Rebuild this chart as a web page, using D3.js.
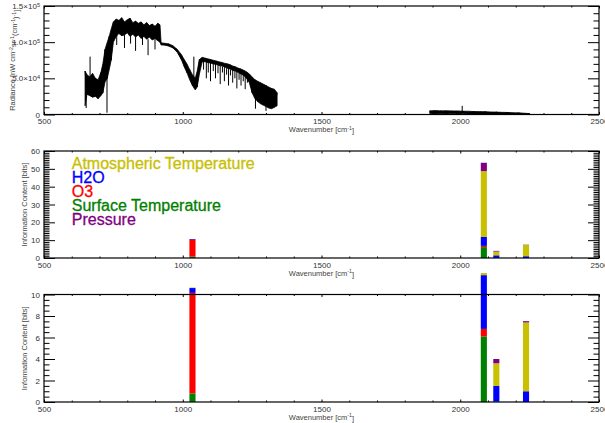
<!DOCTYPE html>
<html>
<head>
<meta charset="utf-8">
<script src="https://cdn.jsdelivr.net/npm/d3@7"></script>
<style>
    body { margin: 0; background: #fff; }
    text { font-family: "Liberation Sans", Arial, Helvetica, sans-serif; }
</style>
</head>
<body>
<div id="chart"></div>
<script>
'use strict';

// ---- spectrum (radiance envelope) ----
var band1Wn = [648, 655, 665, 675, 685, 695, 705, 712, 720, 728, 735, 742, 750, 760, 770, 780, 790, 800, 810, 820,
    830, 840, 850, 860, 870, 880, 890, 900, 910, 918, 922, 935, 950, 965, 980, 995, 1005, 1015, 1025, 1035,
    1045, 1052, 1060, 1070, 1080, 1090, 1100, 1110, 1120, 1130, 1140, 1150, 1160, 1170, 1180, 1190, 1200, 1210,
    1220, 1230, 1240, 1250, 1260, 1270, 1280, 1290, 1300, 1310, 1320, 1330, 1340];
var band1Hi = [60000, 55000, 52000, 57000, 50000, 48000, 58000, 70000, 90000, 100000, 108000, 118000, 128000, 132000, 130000, 134000, 128000, 131000, 133000, 127000,
    129000, 126000, 128000, 124000, 127000, 123000, 125000, 122000, 126000, 124000, 99000, 98500, 97500, 95000, 90000, 83000, 76000, 70000, 62000, 55000,
    50000, 60000, 76000, 79000, 78000, 77000, 76000, 75000, 74000, 73000, 72000, 71000, 70000, 69000, 67000, 66000, 64000, 63000,
    61000, 59000, 56000, 52000, 48000, 46000, 44000, 42000, 40000, 38000, 36000, 35000, 30000];
var band1Lo = [12000, 28000, 26000, 24000, 25000, 22000, 26000, 30000, 45000, 50000, 62000, 75000, 100000, 108000, 112000, 109000, 110000, 113000, 108000, 111000,
    107000, 110000, 105000, 108000, 104000, 107000, 103000, 105000, 102000, 100000, 96000, 96000, 94500, 92000, 86000, 76000, 66000, 58000, 48000, 40000,
    34000, 38000, 56000, 73000, 73000, 72000, 71000, 70000, 69000, 68000, 67000, 66000, 64000, 63000, 61000, 60000, 58000, 56000,
    54000, 50000, 44000, 30000, 22000, 18000, 15000, 13000, 11000, 9000, 8000, 10000, 12000];

var band2Wn = [1890, 1910, 1930, 1950, 1970, 1990, 2010, 2030, 2050, 2070, 2090, 2110, 2130, 2150, 2170, 2190, 2210, 2230, 2250];
var band2Hi = [5000, 5500, 5000, 5300, 4800, 5000, 4500, 4500, 4000, 4000, 3800, 3500, 3300, 3000, 2800, 2500, 2200, 1800, 1200];
var band2Lo = [1500, 1000, 1200, 1000, 1000, 1000, 1000, 800, 800, 600, 600, 500, 500, 400, 400, 300, 300, 300, 500];

// single spectral lines sticking out of the band
var spikeWn = [652, 666, 727, 762, 790, 812, 830, 855, 875, 900, 1040, 1075, 1085, 1092, 1100, 1110, 1118, 1127, 1135, 1143, 1150,
    1158, 1165, 1172, 1180, 1188, 1195, 1203, 1210, 1218, 1225, 1233, 1262, 1300, 2007];
var spikeLo = [9000, 40000, 2500, 96000, 92000, 98000, 88000, 96000, 82000, 90000, 50000, 62000, 50000, 58000, 46000, 60000, 50000, 57000, 42000, 58000, 46000,
    55000, 40000, 54000, 44000, 50000, 36000, 48000, 40000, 46000, 35000, 44000, 8000, 5000, 2000];
var spikeHi = [40000, 80000, 60000, 110000, 110000, 110000, 108000, 108000, 104000, 104000, 80000, 74000, 74000, 72000, 72000, 70000, 70000, 68000, 68000, 66000, 66000,
    64000, 64000, 62000, 62000, 60000, 60000, 58000, 58000, 56000, 56000, 52000, 30000, 25000, 12000];

// ---- information content per channel group [bits] ----
var barWn = [1035, 2085, 2130, 2237];
var surfTemp = [0.8, 6.1, 0.05, 0];
var ozone = [9.35, 0.7, 0, 0];
var water = [0.45, 5.0, 1.45, 1.0];
var atmTemp = [0.05, 36.9, 2.1, 6.4];
var pressure = [0, 4.7, 0.4, 0.12];

var stackKeys = ["surf", "o3", "h2o", "atm", "pres"];
var stackColors = {surf: "#008000", o3: "#ff0000", h2o: "#0000ff", atm: "#c8c000", pres: "#800080"};

var legendLabels = ["Atmospheric Temperature", "H2O", "O3", "Surface Temperature", "Pressure"];
var legendColors = ["#c8c000", "#0000ff", "#ff0000", "#008000", "#800080"];

var xTicks = [500, 1000, 1500, 2000, 2500];

var width = 605, height = 423;
var left = 44, right = 599;

var svg = d3.select("#chart").append("svg")
    .attr("width", width)
    .attr("height", height);

var x = d3.scaleLinear().domain([500, 2500]).range([left, right]);
var xMinor = d3.range(500, 2501, 100).filter(function(v) { return v % 500 !== 0; });

function sup(sel, base, power) {
    sel.text(null);
    sel.append("tspan").text(base);
    sel.append("tspan").attr("dy", "-0.45em").style("font-size", "0.7em").text(power);
}

// draw the boxed frame with IDL style ticks on all four sides
function drawFrame(top, bottom, y, yMajor, yMinorVals, yFmt) {
    var g = svg.append("g");

    var axes = [
        [d3.axisBottom(x).tickValues(xTicks).tickSize(-2.5).tickPadding(4).tickFormat(d3.format("d")), "translate(0," + bottom + ")", "xlab"],
        [d3.axisBottom(x).tickValues(xMinor).tickSize(-1.5).tickFormat(""), "translate(0," + bottom + ")", ""],
        [d3.axisTop(x).tickValues(xTicks).tickSize(-2.5).tickFormat(""), "translate(0," + top + ")", ""],
        [d3.axisTop(x).tickValues(xMinor).tickSize(-1.5).tickFormat(""), "translate(0," + top + ")", ""],
        [d3.axisLeft(y).tickValues(yMajor).tickSize(-11).tickPadding(4).tickFormat(yFmt), "translate(" + left + ",0)", "ylab"],
        [d3.axisLeft(y).tickValues(yMinorVals).tickSize(-5.5).tickFormat(""), "translate(" + left + ",0)", ""],
        [d3.axisRight(y).tickValues(yMajor).tickSize(-11).tickFormat(""), "translate(" + right + ",0)", ""],
        [d3.axisRight(y).tickValues(yMinorVals).tickSize(-5.5).tickFormat(""), "translate(" + right + ",0)", ""]
    ];

    axes.forEach(function(a) {
        var ag = g.append("g").attr("class", a[2]).attr("transform", a[1]).call(a[0]);
        ag.select(".domain").remove();
        ag.selectAll("line").attr("stroke", "#000").attr("stroke-width", 1);
        ag.selectAll("text")
            .style("font-size", "8px")
            .attr("fill", "#333");
    });

    g.append("rect")
        .attr("x", left)
        .attr("y", top)
        .attr("width", right - left)
        .attr("height", bottom - top)
        .attr("fill", "none")
        .attr("stroke", "#000")
        .attr("stroke-width", 1.2);

    svg.append("text")
        .attr("x", x(1500))
        .attr("y", bottom + 17.5)
        .attr("text-anchor", "middle")
        .style("font-size", "7.5px")
        .attr("fill", "#444")
        .call(function(t) {
            t.append("tspan").text("Wavenumber [cm");
            t.append("tspan").attr("dy", "-0.45em").style("font-size", "0.7em").text("-1");
            t.append("tspan").attr("dy", "0.45em").text("]");
        });

    return g;
}

function yTitle(cx, cy, build) {
    svg.append("text")
        .attr("transform", "translate(" + cx + "," + cy + ")rotate(-90)")
        .attr("text-anchor", "middle")
        .style("font-size", "7.5px")
        .attr("fill", "#444")
        .call(build);
}

// ---------------- top panel : radiance spectrum ----------------
var topT = 6, topB = 114.5;
var yRad = d3.scaleLinear().domain([0, 150000]).range([topB, topT]);
var radMinor = d3.range(0, 150001, 10000).filter(function(v) { return v % 50000 !== 0; });

var topFrame = drawFrame(topT, topB, yRad, [0, 50000, 100000, 150000], radMinor, function(d) { return d; });
var radLabels = {50000: ["5.0\u00d710", "4"], 100000: ["1.0\u00d710", "5"], 150000: ["1.5\u00d710", "5"]};
topFrame.select(".ylab").selectAll(".tick text").each(function(d) {
    var t = d3.select(this);
    if (d === 0) { t.text("0"); return; }
    sup(t, radLabels[d][0], radLabels[d][1]);
});

yTitle(15, (topT + topB) / 2, function(t) {
    t.append("tspan").text("Radiance [nW cm");
    t.append("tspan").attr("dy", "-0.45em").style("font-size", "0.7em").text("-2");
    t.append("tspan").attr("dy", "0.45em").text("sr");
    t.append("tspan").attr("dy", "-0.45em").style("font-size", "0.7em").text("-1");
    t.append("tspan").attr("dy", "0.45em").text("(cm");
    t.append("tspan").attr("dy", "-0.45em").style("font-size", "0.7em").text("-1");
    t.append("tspan").attr("dy", "0.45em").text(")");
    t.append("tspan").attr("dy", "-0.45em").style("font-size", "0.7em").text("-1");
    t.append("tspan").attr("dy", "0.45em").text("]");
});

var bandArea = d3.area()
    .x(function(d) { return x(d.wn); })
    .y0(function(d) { return yRad(d.lo); })
    .y1(function(d) { return yRad(d.hi); });

var zig = d3.line()
    .x(function(d) { return x(d[0]); })
    .y(function(d) { return yRad(d[1]); });

[[band1Wn, band1Hi, band1Lo], [band2Wn, band2Hi, band2Lo]].forEach(function(b) {
    var rows = b[0].map(function(w, i) { return {wn: w, hi: b[1][i], lo: b[2][i]}; });
    svg.append("path")
        .datum(rows)
        .attr("d", bandArea)
        .attr("fill", "#000")
        .attr("stroke", "#000")
        .attr("stroke-width", 0.8);
    // ragged zig-zag between the envelope values
    var pts = [];
    rows.forEach(function(r, i) { pts.push([r.wn, i % 2 ? r.lo : r.hi]); });
    svg.append("path")
        .datum(pts)
        .attr("d", zig)
        .attr("fill", "none")
        .attr("stroke", "#000")
        .attr("stroke-width", 1);
});

svg.append("g").selectAll("line")
    .data(spikeWn)
    .enter().append("line")
    .attr("x1", function(d) { return x(d); })
    .attr("x2", function(d) { return x(d); })
    .attr("y1", function(d, i) { return yRad(spikeLo[i]); })
    .attr("y2", function(d, i) { return yRad(spikeHi[i]); })
    .attr("stroke", "#000")
    .attr("stroke-width", 1);

// ---------------- stacked bars ----------------
var barRows = barWn.map(function(w, i) {
    return {wn: w, surf: surfTemp[i], o3: ozone[i], h2o: water[i], atm: atmTemp[i], pres: pressure[i]};
});
var stacked = d3.stack().keys(stackKeys)(barRows);
var barHalf = 11;

function drawBars(y, clipId) {
    var g = svg.append("g");
    if (clipId) g.attr("clip-path", "url(#" + clipId + ")");
    g.selectAll("g")
        .data(stacked)
        .enter().append("g")
        .attr("fill", function(s) { return stackColors[s.key]; })
        .selectAll("rect")
        .data(function(s) { return s; })
        .enter().append("rect")
        .attr("x", function(d) { return x(d.data.wn - barHalf); })
        .attr("width", function(d) { return x(d.data.wn + barHalf) - x(d.data.wn - barHalf); })
        .attr("y", function(d) { return y(d[1]); })
        .attr("height", function(d) { return Math.max(0, y(d[0]) - y(d[1])); });
}

// middle panel : full range
var midT = 151, midB = 258;
var yMid = d3.scaleLinear().domain([0, 60]).range([midB, midT]);
var midMinor = d3.range(0, 61, 1).filter(function(v) { return v % 10 !== 0; });
drawBars(yMid, null);
drawFrame(midT, midB, yMid, d3.range(0, 61, 10), midMinor, d3.format("d"));
yTitle(27, (midT + midB) / 2, function(t) { t.text("Information Content [bits]"); });

svg.append("g").selectAll("text")
    .data(legendLabels)
    .enter().append("text")
    .attr("x", x(600))
    .attr("y", function(d, i) { return yMid(50) + i * 14; })
    .attr("fill", function(d, i) { return legendColors[i]; })
    .attr("stroke", function(d, i) { return legendColors[i]; })
    .attr("stroke-width", 0.3)
    .style("font-size", "16px")
    .text(function(d) { return d; });

// bottom panel : zoom on 0-10 bits
var botT = 294.5, botB = 402;
var yBot = d3.scaleLinear().domain([0, 10]).range([botB, botT]);
var botMinor = d3.range(0, 10.01, 0.5).filter(function(v) { return v % 2 !== 0; });
svg.append("defs").append("clipPath").attr("id", "botClip")
    .append("rect")
    .attr("x", left).attr("y", yBot(12))
    .attr("width", right - left).attr("height", botB - yBot(12));
drawBars(yBot, "botClip");
drawFrame(botT, botB, yBot, d3.range(0, 10.01, 2), botMinor, d3.format("d"));
yTitle(27, (botT + botB) / 2, function(t) { t.text("Information Content [bits]"); });
</script>
</body>
</html>
